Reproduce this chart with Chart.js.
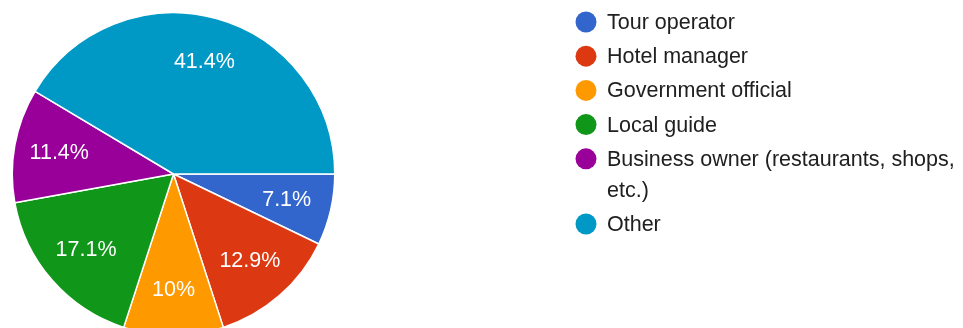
<!DOCTYPE html>
<html>
<head>
<meta charset="utf-8">
<script src="https://cdn.jsdelivr.net/npm/chart.js@4"></script>
<style>
  html, body { margin: 0; padding: 0; background: #fff; overflow: hidden; }
  #wrap { position: relative; width: 963px; height: 348px; }
</style>
</head>
<body>
<div id="wrap"><canvas id="myPie"></canvas></div>
<script>
// responses per role
var roles = ["Tour operator", "Hotel manager", "Government official", "Local guide",
             "Business owner (restaurants, shops, etc.)", "Other"];
var counts = [5, 9, 7, 12, 8, 29];
var sliceColors = ['#3366cc', '#dc3912', '#ff9900', '#109618', '#990099', '#0099c6'];

var total = 0;
counts.forEach(function(n){ total += n; });

function pctText(n){
    var p = (n / total * 100).toFixed(1);
    if (p.slice(-2) == ".0"){
        p = p.slice(0, -2);
    }
    return p + "%";
}

var FONT = '21.5px "Liberation Sans", Arial, sans-serif';

// white percentage text inside every slice
var sliceLabels = {
    id: 'sliceLabels',
    afterDatasetsDraw: function(chart){
        var ctx = chart.ctx;
        var arcs = chart.getDatasetMeta(0).data;
        ctx.save();
        ctx.font = FONT;
        ctx.fillStyle = '#fff';
        ctx.textAlign = 'center';
        ctx.textBaseline = 'middle';
        for (var i = 0; i < arcs.length; i++) {
            var a = arcs[i];
            var mid = (a.startAngle + a.endAngle) / 2;
            var r = a.outerRadius * 0.72;
            ctx.fillText(pctText(counts[i]), a.x + Math.cos(mid) * r, a.y + Math.sin(mid) * r);
        }
        ctx.restore();
    }
};

// legend on the right, long names wrap onto a second line
var sideLegend = {
    id: 'sideLegend',
    afterDraw: function(chart){
        var ctx = chart.ctx;
        var dotX = 586, textX = 607;
        var maxW = chart.width - textX - 1;
        var y = 22;
        ctx.save();
        ctx.font = FONT;
        ctx.textBaseline = 'middle';
        for (var i = 0; i < roles.length; i++) {
            ctx.fillStyle = sliceColors[i];
            ctx.beginPath();
            ctx.arc(dotX, y, 10.5, 0, Math.PI * 2);
            ctx.fill();

            var words = roles[i].split(' ');
            var lines = [];
            var line = '';
            words.forEach(function(w){
                var test = line ? line + ' ' + w : w;
                if (line && ctx.measureText(test).width > maxW){
                    lines.push(line);
                    line = w;
                } else {
                    line = test;
                }
            });
            lines.push(line);

            ctx.fillStyle = '#202020';
            for (var k = 0; k < lines.length; k++) {
                ctx.fillText(lines[k], textX, y + 1 + k * 31);
            }
            y += 34.2 + (lines.length - 1) * 31;
        }
        ctx.restore();
    }
};

var pieChart = new Chart('myPie', {
    type: 'pie',
    data: {
        labels: roles,
        datasets: [{
            data: counts,
            backgroundColor: sliceColors,
            borderColor: '#ffffff',
            borderWidth: 1.5,
            hoverOffset: 0
        }]
    },
    options: {
        responsive: true,
        maintainAspectRatio: false,
        animation: false,
        rotation: 90,
        layout: {
            padding: { left: 11.5, right: 627.5, top: 12, bottom: 12 }
        },
        plugins: {
            legend: { display: false },
            tooltip: { enabled: false }
        }
    },
    plugins: [sliceLabels, sideLegend]
});
</script>
</body>
</html>
